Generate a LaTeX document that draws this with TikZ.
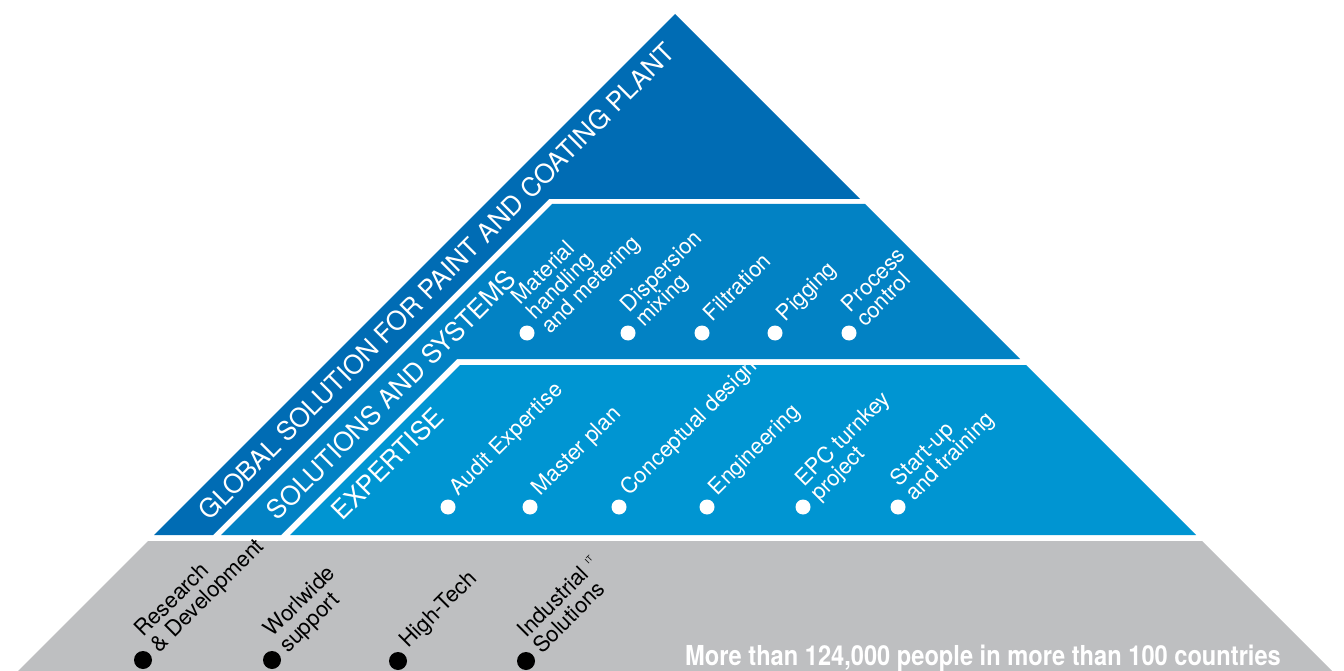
\documentclass[tikz,border=0pt]{standalone}
\usepackage{fontspec}
\setmainfont{TeX Gyre Heros}
\newfontfamily\condfont{TeX Gyre Heros}[FakeStretch=0.86]
\usetikzlibrary{calc}
\definecolor{blueA}{HTML}{006CB4}
\definecolor{blueB}{HTML}{0282C4}
\definecolor{blueC}{HTML}{0095D2}
\definecolor{greyD}{HTML}{BEBFC1}
\begin{document}
\begin{tikzpicture}[x=1pt,y=-1pt,
  band/.style={text=white, font=\fontsize{26}{26}\selectfont, rotate=45, anchor=west, inner sep=0pt},
  item/.style={text=white, font=\fontsize{22}{21}\selectfont, rotate=45, anchor=base west, align=left, inner sep=0pt},
  gitem/.style={text=black, font=\fontsize{22}{22}\selectfont, rotate=45, anchor=base west, align=left, inner sep=0pt},
  wdot/.style={circle, fill=white, inner sep=0pt, minimum size=15pt},
  bdot/.style={circle, fill=black, inner sep=0pt, minimum size=18pt},
]
\useasboundingbox (0,0) rectangle (1344,671);
% shapes
\fill[greyD] (148,541) -- (1202,541) -- (1332,671) -- (18,671) -- cycle;
\fill[blueA] (675,14) -- (860,199) -- (549,199) -- (213,535) -- (154,535) -- cycle;
\fill[blueB] (552,204) -- (865,204) -- (1020,359) -- (457,359) -- (281,535) -- (221,535) -- cycle;
\fill[blueC] (460,365) -- (1026,365) -- (1196,535) -- (290,535) -- cycle;
% band labels
\node[band] (global) at (203,515) {GLOBAL SOLUTION FOR PAINT AND COATING PLANT};
\node[band] (solsys) at (271,515) {SOLUTIONS AND SYSTEMS};
\node[band] (expert) at (336,515) {EXPERTISE};
% solutions and systems items (anchor = baseline of last line)
\node[wdot] (m1) at (527,333) {};
\node[wdot] (m2) at (628,333) {};
\node[wdot] (m3) at (702,333) {};
\node[wdot] (m4) at (775,333) {};
\node[wdot] (m5) at (849,333) {};
\node[item] (tm1) at ($(m1)+(45:15pt)+(135:-18pt)$) {Material\\handling\\and metering};
\node[item] (tm2) at ($(m2)+(45:15pt)+(135:-8pt)$) {Dispersion\\mixing};
\node[item] (tm3) at ($(m3)+(45:15pt)+(135:0pt)$) {Filtration};
\node[item] (tm4) at ($(m4)+(45:15pt)+(135:0pt)$) {Pigging};
\node[item] (tm5) at ($(m5)+(45:15pt)+(135:-8pt)$) {Process\\control};
% expertise items
\node[wdot] (e1) at (448,507) {};
\node[wdot] (e2) at (530,507) {};
\node[wdot] (e3) at (619,507) {};
\node[wdot] (e4) at (707,507) {};
\node[wdot] (e5) at (803,507) {};
\node[wdot] (e6) at (898,507) {};
\node[item] (te1) at ($(e1)+(45:15pt)+(135:0pt)$) {Audit Expertise};
\node[item] (te2) at ($(e2)+(45:15pt)+(135:0pt)$) {Master plan};
\node[item] (te3) at ($(e3)+(45:15pt)+(135:0pt)$) {Conceptual design};
\node[item] (te4) at ($(e4)+(45:15pt)+(135:0pt)$) {Engineering};
\node[item] (te5) at ($(e5)+(45:15pt)+(135:-8pt)$) {EPC turnkey\\project};
\node[item] (te6) at ($(e6)+(45:15pt)+(135:-8pt)$) {Start-up\\and training};
% base items
\node[bdot] (g1) at (143,660) {};
\node[bdot] (g2) at (272,660) {};
\node[bdot] (g3) at (398,661) {};
\node[bdot] (g4) at (526,661) {};
\node[gitem] (tg1) at ($(g1)+(45:16pt)+(135:-7pt)$) {Research\\\& Development};
\node[gitem] (tg2) at ($(g2)+(45:16pt)+(135:-7pt)$) {Worlwide\\support};
\node[gitem] (tg3) at ($(g3)+(45:16pt)+(135:1pt)$) {High-Tech};
\node[gitem] (tg4) at ($(g4)+(45:16pt)+(135:-7pt)$) {Industrial\,\,\raisebox{9.5pt}{\fontsize{8}{8}\selectfont IT}\\Solutions};
% footer
\node[anchor=base west, text=white, font=\condfont\bfseries\fontsize{27.5}{30}\selectfont, inner sep=0pt] (foot) at (685,665) {More than 124,000 people in more than 100 countries};
\end{tikzpicture}
\end{document}
